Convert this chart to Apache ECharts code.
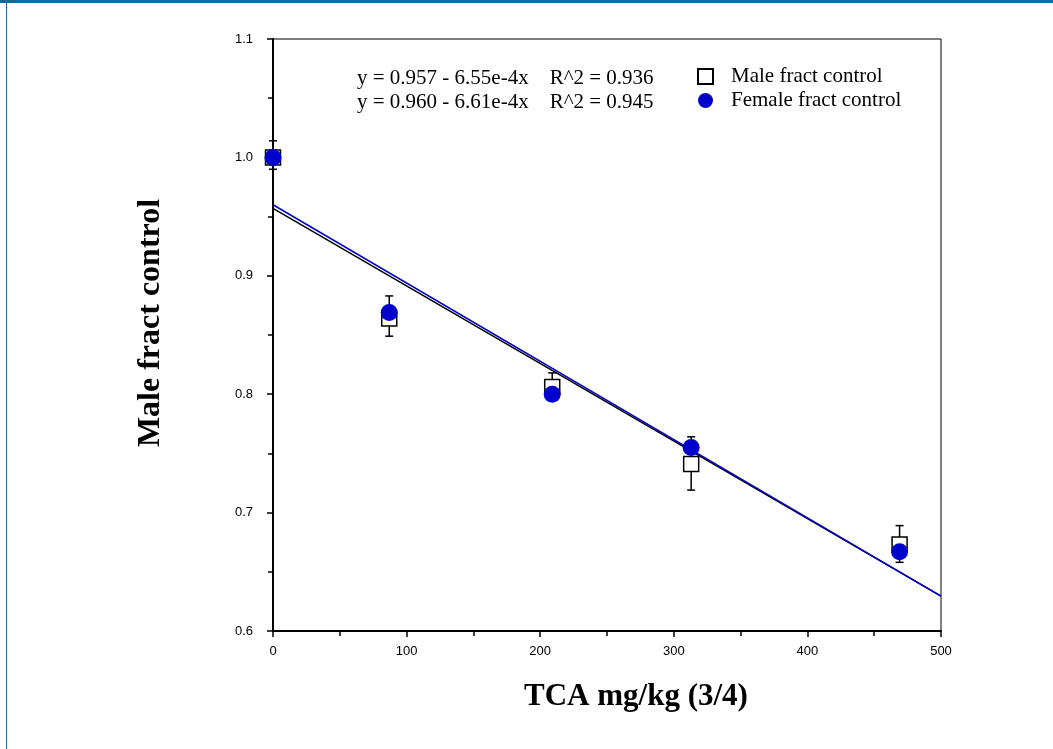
<!DOCTYPE html>
<html>
<head>
<meta charset="utf-8">
<script src="https://cdn.jsdelivr.net/npm/echarts@6/dist/echarts.min.js"></script>
<style>
  html, body { margin: 0; padding: 0; background: #fff; }
  #topbar { position: absolute; left: 0; top: 0; width: 1053px; height: 3px; background: #0b6ba1; }
  #leftline { position: absolute; left: 6px; top: 0; width: 1px; height: 749px; background: #1a6fa5; }
  #chart { position: absolute; left: 0; top: 0; width: 1053px; height: 749px; }
</style>
</head>
<body>
<div id="topbar"></div>
<div id="leftline"></div>
<div id="chart"></div>
<script>
// dose values (x) and fraction of control (y)
const doses = [0, 87, 209, 313, 469];
const maleValues = [1.0, 0.864, 0.806, 0.741, 0.673];
const femaleValues = [1.0, 0.869, 0.800, 0.755, 0.667];

// error bar ends [low, high]
const maleErr = [[0.990, 1.014], [0.849, 0.864], [0.806, 0.818], [0.719, 0.741], [0.673, 0.689]];
const femaleErr = [[1.0, 1.0], [0.869, 0.883], [0.800, 0.800], [0.755, 0.764], [0.658, 0.667]];

// regression line end points
const maleFit = [[0, 0.957], [500, 0.6295]];
const femaleFit = [[0, 0.960], [500, 0.6295]];

const equations = [
  'y = 0.957 - 6.55e-4x    R^2 = 0.936',
  'y = 0.960 - 6.61e-4x    R^2 = 0.945'
];

const BLUE = '#0000cc';
const SERIF = '"Liberation Serif", "Times New Roman", serif';
const SANS = '"Liberation Sans", Arial, sans-serif';

const chart = echarts.init(document.getElementById('chart'));

function errorBars(errs, color) {
  return {
    type: 'custom',
    silent: true,
    clip: false,
    z: 2,
    data: doses.map((d, i) => [d, errs[i][0], errs[i][1]]),
    renderItem: function(params, api) {
      const lo = api.coord([api.value(0), api.value(1)]);
      const hi = api.coord([api.value(0), api.value(2)]);
      if (Math.abs(lo[1] - hi[1]) < 0.5) return null;
      const style = { stroke: color, lineWidth: 1.5 };
      const w = 4;
      return {
        type: 'group',
        children: [
          { type: 'line', shape: { x1: lo[0], y1: lo[1], x2: hi[0], y2: hi[1] }, style: style },
          { type: 'line', shape: { x1: lo[0] - w, y1: lo[1], x2: lo[0] + w, y2: lo[1] }, style: style },
          { type: 'line', shape: { x1: hi[0] - w, y1: hi[1], x2: hi[0] + w, y2: hi[1] }, style: style }
        ]
      };
    }
  };
}

const option = {
  animation: false,
  grid: { left: 273, right: 112, top: 39, bottom: 118, show: true, borderColor: '#000', borderWidth: 1 },
  legend: {
    orient: 'vertical',
    left: 697,
    top: 66,
    padding: 0,
    itemWidth: 15,
    itemHeight: 15,
    itemGap: 3,
    textStyle: { fontFamily: SERIF, fontSize: 21, color: '#000', padding: [0, 0, 0, 13] },
    data: ['Male fract control', 'Female fract control']
  },
  graphic: equations.map((t, i) => ({
    type: 'text',
    left: 357,
    top: 68 + i * 24,
    style: { text: t, fontFamily: SERIF, fontSize: 21, fill: '#000' }
  })),
  xAxis: {
    type: 'value',
    min: 0,
    max: 500,
    interval: 100,
    name: 'TCA mg/kg (3/4)',
    nameLocation: 'middle',
    nameGap: 50,
    nameTextStyle: { fontFamily: SERIF, fontSize: 31, fontWeight: 'bold', color: '#000', padding: [0, 0, 0, 58] },
    axisLine: { lineStyle: { color: '#000', width: 2 } },
    axisTick: { inside: false, length: 6, lineStyle: { color: '#000', width: 1.5 } },
    minorTick: { show: true, splitNumber: 2, length: 5, lineStyle: { color: '#000', width: 1.5 } },
    axisLabel: { fontFamily: SANS, fontSize: 13, color: '#000', margin: 14 },
    splitLine: { show: false }
  },
  yAxis: {
    type: 'value',
    min: 0.6,
    max: 1.1,
    interval: 0.1,
    name: 'Male fract control',
    nameLocation: 'middle',
    nameGap: 106,
    nameRotate: 90,
    nameTextStyle: { fontFamily: SERIF, fontSize: 32, fontWeight: 'bold', color: '#000', padding: [0, 0, 0, 24] },
    axisLine: { show: true, lineStyle: { color: '#000', width: 2 } },
    axisTick: { show: true, inside: false, length: 6, lineStyle: { color: '#000', width: 1.5 } },
    minorTick: { show: true, splitNumber: 2, length: 5, lineStyle: { color: '#000', width: 1.5 } },
    axisLabel: { fontFamily: SANS, fontSize: 13, color: '#000', margin: 20, formatter: v => v.toFixed(1) },
    splitLine: { show: false }
  },
  series: [
    {
      name: 'maleFit',
      type: 'line',
      data: maleFit,
      symbol: 'none',
      silent: true,
      z: 1,
      lineStyle: { color: '#000', width: 1.5 }
    },
    {
      name: 'femaleFit',
      type: 'line',
      data: femaleFit,
      symbol: 'none',
      silent: true,
      z: 1,
      lineStyle: { color: BLUE, width: 1.5 }
    },
    errorBars(femaleErr, '#000'),
    errorBars(maleErr, '#000'),
    {
      name: 'Male fract control',
      type: 'scatter',
      clip: false,
      z: 3,
      symbol: 'rect',
      symbolSize: 15,
      data: doses.map((d, i) => [d, maleValues[i]]),
      itemStyle: { color: '#fff', borderColor: '#000', borderWidth: 1.5, opacity: 1 }
    },
    {
      name: 'Female fract control',
      type: 'scatter',
      clip: false,
      z: 4,
      symbol: 'circle',
      symbolSize: 17,
      data: doses.map((d, i) => [d, femaleValues[i]]),
      itemStyle: { color: BLUE, opacity: 1 }
    }
  ]
};

chart.setOption(option);
</script>
</body>
</html>
